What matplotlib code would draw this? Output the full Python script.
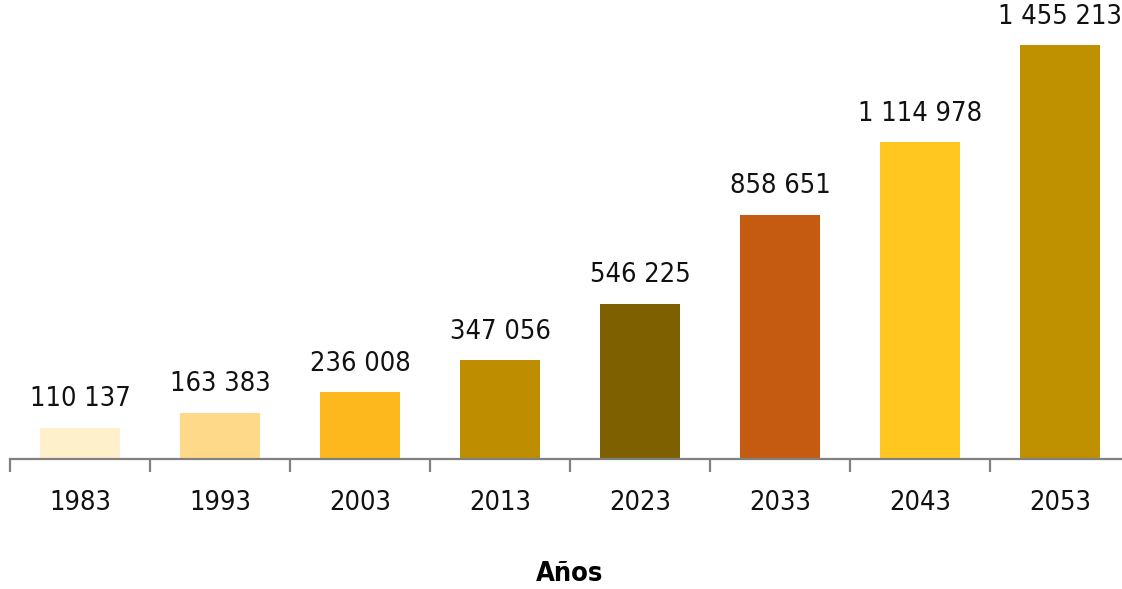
import matplotlib
matplotlib.use("Agg")
import matplotlib.pyplot as plt
from matplotlib.ticker import FixedLocator

years = ["1983", "1993", "2003", "2013", "2023", "2033", "2043", "2053"]
valores = [110137, 163383, 236008, 347056, 546225, 858651, 1114978, 1455213]
colores = ["#FFF0CC", "#FFD98A", "#FDB81E", "#BE8E00",
           "#7F6000", "#C55A11", "#FFC720", "#BF9000"]

plt.rcParams['font.family'] = ['DejaVu Sans']
plt.rcParams['font.stretch'] = 'condensed'

fig = plt.figure(figsize=(11.22, 5.89), dpi=100)
ax = fig.add_axes([10 / 1122, 130 / 589, 1120 / 1122, 459 / 589])

x = range(len(years))
bars = ax.bar(x, valores, width=0.57, color=colores)

def fmt(v):
    return f"{v:,}".replace(",", " ")

for b, v in zip(bars, valores):
    ax.annotate(fmt(v), (b.get_x() + b.get_width() / 2, v),
                xytext=(0, 11), textcoords="offset points",
                ha="center", va="bottom", fontsize=19.5, color="#111111",
                annotation_clip=False)

ax.set_xlim(-0.5, 7.5)
ax.set_ylim(0, 1455213 * 459 / 414)

for s in ["top", "right", "left"]:
    ax.spines[s].set_visible(False)
ax.spines["bottom"].set_color("#808080")
ax.spines["bottom"].set_linewidth(1.6)

ax.set_yticks([])
ax.set_xticks(list(x))
ax.set_xticklabels(years, fontsize=19.5, color="#111111")
ax.tick_params(axis="x", which="major", length=0, pad=22)
ax.xaxis.set_minor_locator(FixedLocator([i - 0.5 for i in range(len(years) + 1)]))
ax.tick_params(axis="x", which="minor", length=9, width=1.6, color="#808080")

ax.set_xlabel("Años", fontsize=19.5, fontweight="bold", labelpad=33)

fig.savefig("out.png", dpi=100)
